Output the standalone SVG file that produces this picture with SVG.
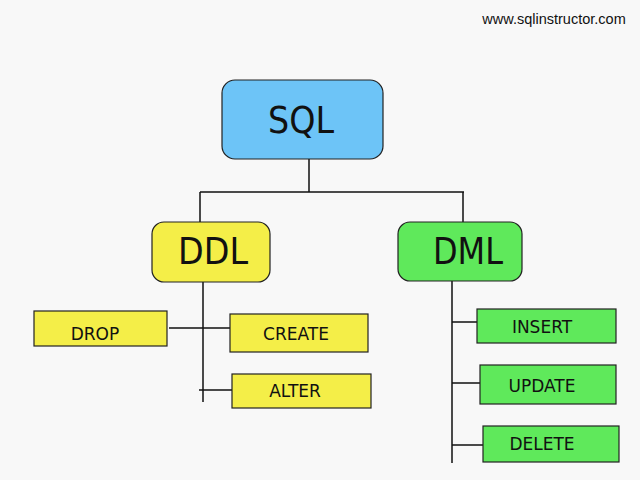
<svg xmlns="http://www.w3.org/2000/svg" width="640" height="480" viewBox="0 0 640 480">
<style>
.box{stroke:#222;stroke-width:1.2}
.blue{fill:#6dc4f7}
.yellow{fill:#f4ee48}
.green{fill:#5fe95b}
.big{font-family:"DejaVu Sans",Verdana,sans-serif;font-size:37px;fill:#111;text-anchor:middle}
.lbl{font-family:"DejaVu Sans",Verdana,sans-serif;font-size:17px;fill:#111;text-anchor:middle}
.conn{stroke:#111;stroke-width:1.5;fill:none}
</style>
<rect width="640" height="480" fill="#f8f8f8"/>
<text x="554" y="24" font-family="Liberation Sans,Arial,sans-serif" font-size="14.5" fill="#111" text-anchor="middle">www.sqlinstructor.com</text>
<g id="connectors">
<path class="conn" d="M309 159V192M200 192H464M200 192V222M463 192V222"/>
<path class="conn" d="M203 282V402M169 328H230M199 390H232"/>
<path class="conn" d="M452 281V463M452 322H477M452 383H480M452 445H483"/>
</g>
<g id="sql"><rect class="box blue" x="222" y="80" width="161" height="79" rx="13"/><text class="big" x="301" y="133" textLength="66" lengthAdjust="spacingAndGlyphs">SQL</text></g>
<g id="ddl"><rect class="box yellow" x="152" y="222" width="118" height="60" rx="12"/><text class="big" x="213" y="264" textLength="70" lengthAdjust="spacingAndGlyphs">DDL</text></g>
<g id="dml"><rect class="box green" x="398" y="222" width="124" height="59" rx="12"/><text class="big" x="468" y="264" textLength="70" lengthAdjust="spacingAndGlyphs">DML</text></g>
<g id="drop"><rect class="box yellow" x="34" y="311" width="133" height="35"/><text class="lbl" x="95" y="340">DROP</text></g>
<g id="create"><rect class="box yellow" x="230" y="314" width="138" height="38"/><text class="lbl" x="296" y="340">CREATE</text></g>
<g id="alter"><rect class="box yellow" x="232" y="374" width="139" height="34"/><text class="lbl" x="295" y="397">ALTER</text></g>
<g id="insert"><rect class="box green" x="477" y="309" width="139" height="34"/><text class="lbl" x="542" y="333">INSERT</text></g>
<g id="update"><rect class="box green" x="480" y="365" width="136" height="39"/><text class="lbl" x="542" y="392">UPDATE</text></g>
<g id="delete"><rect class="box green" x="483" y="426" width="136" height="36"/><text class="lbl" x="542" y="450">DELETE</text></g>
</svg>
